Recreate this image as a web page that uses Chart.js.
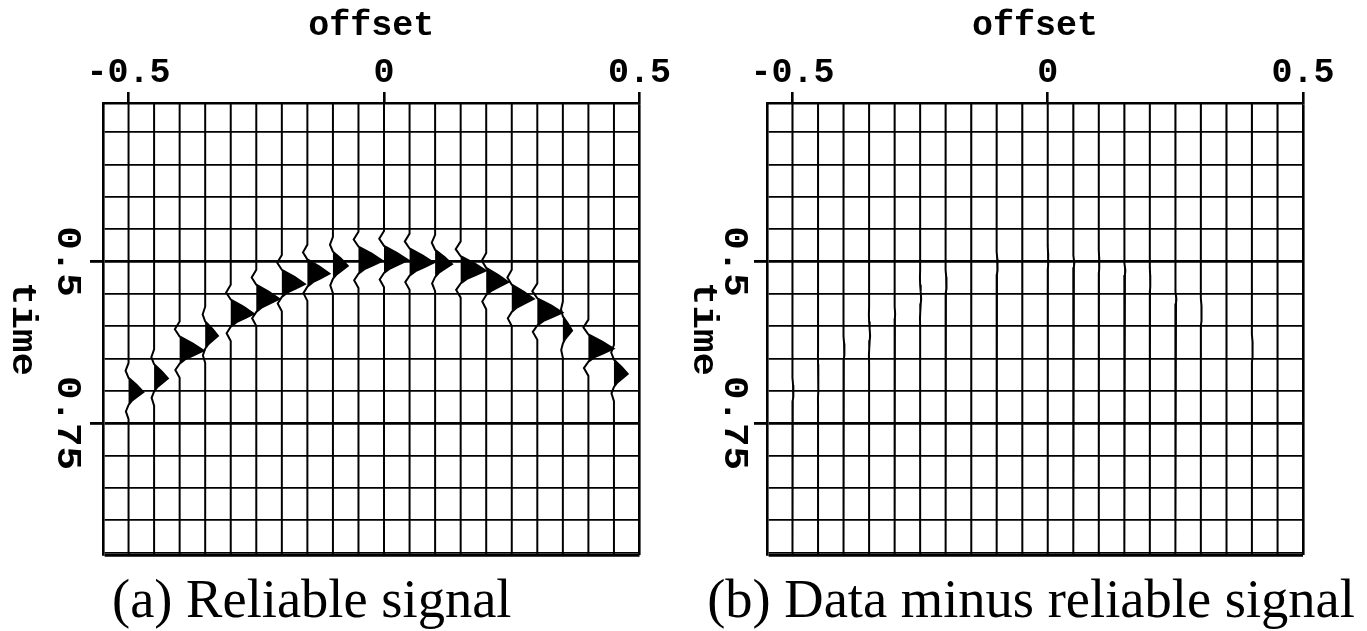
<!DOCTYPE html>
<html>
<head>
<meta charset="utf-8">
<script src="https://cdn.jsdelivr.net/npm/chart.js@4.4.1/dist/chart.umd.min.js"></script>
<style>
  html, body { margin: 0; padding: 0; background: #fff; width: 1367px; height: 631px; overflow: hidden; position: relative; }
  canvas { position: absolute; top: 0; }
  #chartA { left: 0; }
  #chartB { left: 683px; }
</style>
</head>
<body>
<canvas id="chartA" width="683" height="631"></canvas>
<canvas id="chartB" width="696" height="631"></canvas>
<script>
// trace offsets (one wiggle trace per offset)
const offsets = [-0.5, -0.45, -0.4, -0.35, -0.3, -0.25, -0.2, -0.15, -0.1, -0.05, 0,
                 0.05, 0.1, 0.15, 0.2, 0.25, 0.3, 0.35, 0.4, 0.45, 0.5];
// time of the event peak on each trace
const eventTimes = [0.702, 0.681, 0.638, 0.615, 0.581, 0.558, 0.535, 0.519, 0.507, 0.499, 0.498,
                    0.502, 0.504, 0.514, 0.532, 0.558, 0.579, 0.607, 0.635, 0.674, 0.71];
// peak amplitude of each trace (offset units)
const eventAmps = [0.029, 0.027, 0.047, 0.025, 0.045, 0.045, 0.045, 0.043, 0.029, 0.047, 0.047,
                   0.047, 0.033, 0.049, 0.043, 0.043, 0.049, 0.018, 0.049, 0.027, 0];
// what is left in panel (b): almost nothing
const residualAmps = [0.002, 0.001, 0.002, 0.002, 0.001, 0.002, 0.002, 0.001, 0.002, 0.001, 0.001,
                      0.002, 0.001, 0.002, 0.001, 0.002, 0.002, 0.001, 0.002, 0.001, 0];
// wavelet shape, lag (s) vs normalised amplitude
const waveletLags  = [-0.045, -0.033, -0.022, -0.011, 0, 0.007, 0.013, 0.02, 0.03, 0.042];
const waveletShape = [0, -0.2, 0, 0.55, 1, 0.6, 0.25, 0, -0.18, 0];

const timeGrid = [0.3, 0.35, 0.4, 0.45, 0.5, 0.55, 0.6, 0.65, 0.7, 0.75, 0.8, 0.85, 0.9, 0.95];
const timeTickValues = [0.5, 0.75];
const timeTickLabels = ['0.5', '0.75'];
const offsetTickValues = [-0.5, 0, 0.5];
const offsetTickLabels = ['-0.5', '0', '0.5'];
const offsetRange = [-0.55, 0.5];
const timeRange = [0.255, 0.954];

const MONO = '"Liberation Mono", "DejaVu Sans Mono", monospace';
const SERIF = '"Liberation Serif", "DejaVu Serif", serif';

function near(a, b) { return Math.abs(a - b) < 1e-6; }

function traceLine(i, amps, positiveOnly) {
  const pts = [{ x: offsets[i], y: timeRange[0] }];
  if (amps[i] !== 0) {
    for (let k = 0; k < waveletLags.length; k++) {
      let a = waveletShape[k];
      if (positiveOnly) a = Math.max(0, a);
      pts.push({ x: offsets[i] + amps[i] * a, y: eventTimes[i] + waveletLags[k] });
    }
  }
  pts.push({ x: offsets[i], y: timeRange[1] });
  return pts;
}

function buildDatasets(amps) {
  const lines = [];
  const lobes = [];
  for (let i = 0; i < offsets.length; i++) {
    lines.push({
      data: traceLine(i, amps, false),
      borderColor: '#000', borderWidth: 2, pointRadius: 0, tension: 0, fill: false
    });
    lobes.push({
      data: traceLine(i, amps, true),
      borderWidth: 0, borderColor: 'rgba(0,0,0,0)', backgroundColor: '#000',
      pointRadius: 0, tension: 0, fill: { value: offsets[i] }
    });
  }
  return lines.concat(lobes);
}

// vertical time labels, read top to bottom
const timeLabels = {
  id: 'timeLabels',
  afterDraw(chart, args, opts) {
    const { ctx } = chart;
    const ys = chart.scales.y;
    ctx.save();
    ctx.fillStyle = '#000';
    ctx.font = 'bold 35px ' + MONO;
    ctx.textAlign = 'center';
    ctx.textBaseline = 'middle';
    timeTickValues.forEach((v, j) => {
      ctx.save();
      ctx.translate(opts.labelX, ys.getPixelForValue(v));
      ctx.rotate(Math.PI / 2);
      ctx.scale(1.12, 1);
      ctx.fillText(timeTickLabels[j], 0, 0);
      ctx.restore();
    });
    ctx.translate(opts.titleX, (ys.top + ys.bottom) / 2);
    ctx.rotate(Math.PI / 2);
    ctx.scale(1.12, 1);
    ctx.fillText('time', 0, 0);
    ctx.restore();
  }
};

function makePanel(id, amps, caption, pad, yWidth, rightWidth, labelX, titleX) {
  return new Chart(document.getElementById(id), {
    type: 'line',
    data: { datasets: buildDatasets(amps) },
    plugins: [timeLabels],
    options: {
      indexAxis: 'y',
      responsive: false,
      animation: false,
      events: [],
      layout: { padding: pad },
      plugins: {
        legend: { display: false },
        tooltip: { enabled: false },
        title: {
          display: true, position: 'bottom', text: caption, color: '#000',
          font: { family: SERIF, size: 54.5, weight: 'normal', lineHeight: 1.0 },
          padding: { top: 20, bottom: 1.5 }
        },
        timeLabels: { labelX: labelX, titleX: titleX }
      },
      scales: {
        x: {
          type: 'linear', position: 'top',
          min: offsetRange[0], max: offsetRange[1],
          afterBuildTicks: s => { s.ticks = [offsetRange[0]].concat(offsetTickValues).map(v => ({ value: v })); },
          afterFit: s => { s.height = 103; },
          ticks: {
            autoSkip: false, maxRotation: 0, padding: -2, color: '#000',
            font: { family: MONO, size: 35, weight: 'bold' },
            callback: v => { const j = offsetTickValues.findIndex(t => near(t, v)); return j < 0 ? '' : offsetTickLabels[j]; }
          },
          grid: {
            drawOnChartArea: true, tickLength: 11, lineWidth: 2.6,
            color: c => (near(c.tick.value, offsetRange[1]) ? '#000' : 'rgba(0,0,0,0)'),
            tickColor: c => (offsetTickValues.some(t => near(t, c.tick.value)) ? '#000' : 'rgba(0,0,0,0)')
          },
          border: { display: true, color: '#000', width: 2.6 },
          title: {
            display: true, text: 'offset', color: '#000',
            font: { family: MONO, size: 35, weight: 'bold', lineHeight: 1.2 },
            padding: { top: 5, bottom: 0 }
          }
        },
        y: {
          type: 'linear', position: 'left', reverse: true,
          min: timeRange[0], max: timeRange[1],
          afterBuildTicks: s => { s.ticks = [timeRange[0]].concat(timeGrid, [timeRange[1]]).map(v => ({ value: v })); },
          afterFit: s => { s.width = yWidth; },
          ticks: { display: false },
          grid: {
            tickLength: 13,
            color: '#000',
            lineWidth: c => ((timeTickValues.some(t => near(t, c.tick.value)) || near(c.tick.value, timeRange[1])) ? 2.8 : 1.8),
            tickColor: c => (timeTickValues.some(t => near(t, c.tick.value)) ? '#000' : 'rgba(0,0,0,0)')
          },
          border: { display: true, color: '#000', width: 2.6 }
        },
        // empty spacer on the right so the caption box can stay wide
        yRight: {
          type: 'linear', position: 'right', display: rightWidth > 0,
          afterFit: s => { s.width = rightWidth; },
          ticks: { display: false },
          grid: { display: false, drawTicks: false },
          border: { display: false }
        }
      }
    }
  });
}

makePanel('chartA', eventAmps, '(a) Reliable signal', { left: -16, right: 43.5, top: 0, bottom: 0 }, 119, 0, 67, 22);
makePanel('chartB', residualAmps, '(b) Data minus reliable signal', { left: 0, right: 0, top: 0, bottom: 0 }, 84, 76, 51, 20);
</script>
</body>
</html>
